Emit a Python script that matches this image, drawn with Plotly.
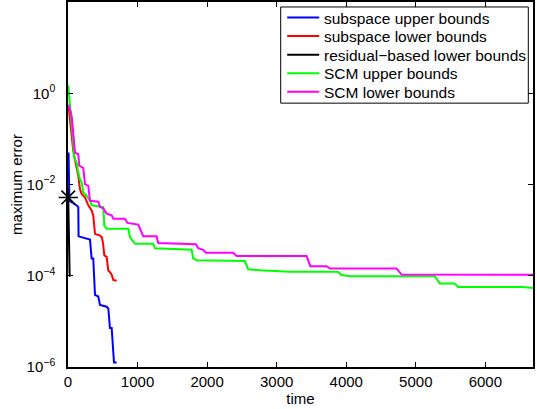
import plotly.graph_objects as go

# Error bounds versus computation time
sub_up_t = [8, 20, 134, 148, 152, 292, 316, 340, 363, 388, 435, 460, 556, 580, 603, 628, 661, 700]
sub_up_v = [0.05, 4.4e-3, 3.4e-3, 3.2e-3, 7.3e-4, 6.5e-4, 6.2e-4, 2.4e-4, 2.4e-4, 3.8e-5, 3.5e-5,
            2.3e-5, 2.1e-5, 1.9e-5, 7.2e-6, 7.2e-6, 1.26e-6, 1.26e-6]

sub_lo_t = [10, 50, 76, 148, 172, 197, 244, 292, 340, 363, 388, 460, 488, 507, 522, 556, 579,
            603, 628, 651, 700]
sub_lo_v = [0.5, 0.15, 0.054, 0.0155, 7.9e-3, 6.2e-3, 5.2e-3, 3.5e-3, 2.7e-3, 2.1e-3, 8.3e-4,
            7.6e-4, 6.9e-4, 4.7e-4, 2.8e-4, 2.6e-4, 1.3e-4, 1.2e-4, 1.05e-4, 8.1e-5, 7.8e-5]

res_lo_t = [3, 10, 18, 24]
res_lo_v = [5.2e-3, 1.5e-3, 4.0e-4, 9.5e-5]

star_t = [4]
star_v = [5.2e-3]

scm_up_t = [4, 29, 53, 76, 86, 125, 148, 172, 197, 220, 269, 316, 340, 507, 522, 556, 866, 891,
            963, 1226, 1250, 1777, 1800, 1849, 2543, 2591, 2759, 3190, 3879, 3932, 4052, 5273,
            5345, 5560, 5608, 6542, 6685]
scm_up_v = [1.5, 0.6, 0.19, 0.082, 0.039, 0.030, 0.018, 0.013, 0.011, 6.7e-3, 5.6e-3, 4.4e-3,
            3.5e-3, 3.2e-3, 1.26e-3, 1.07e-3, 1.07e-3, 7.0e-4, 5.0e-4, 5.0e-4, 4.0e-4, 3.7e-4,
            2.4e-4, 2.2e-4, 2.1e-4, 1.38e-4, 1.32e-4, 1.23e-4, 1.23e-4, 1.04e-4, 9.8e-5, 9.8e-5,
            6.8e-5, 6.8e-5, 5.7e-5, 5.7e-5, 5.4e-5]

scm_lo_t = [4, 29, 53, 76, 101, 148, 162, 220, 244, 292, 316, 435, 460, 507, 556, 628, 651, 819,
            855, 1010, 1059, 1082, 1274, 1297, 1839, 1872, 1944, 1983, 2375, 2424, 3430, 3484,
            3717, 3764, 4722, 4795, 6685]
scm_lo_v = [0.56, 0.44, 0.31, 0.114, 0.050, 0.046, 0.026, 0.023, 0.0102, 9.3e-3, 4.4e-3, 4.2e-3,
            3.2e-3, 3.0e-3, 2.3e-3, 2.1e-3, 1.78e-3, 1.78e-3, 1.44e-3, 1.32e-3, 9.1e-4, 7.3e-4,
            7.3e-4, 5.2e-4, 4.9e-4, 4.0e-4, 3.7e-4, 3.2e-4, 3.2e-4, 2.7e-4, 2.7e-4, 1.62e-4,
            1.62e-4, 1.45e-4, 1.45e-4, 1.07e-4, 1.05e-4]

x_ticks = [0, 1000, 2000, 3000, 4000, 5000, 6000]
y_ticks = [1e-6, 1e-4, 1e-2, 1e0]
y_tick_text = ["10<sup>\u22126</sup>", "10<sup>\u22124</sup>", "10<sup>\u22122</sup>", "10<sup>0</sup>"]

FONT = "Liberation Sans, Arial, sans-serif"

series = [
    ("subspace upper bounds", sub_up_t, sub_up_v, "#0000ff"),
    ("subspace lower bounds", sub_lo_t, sub_lo_v, "#ff0000"),
    ("residual\u2212based lower bounds", res_lo_t, res_lo_v, "#000000"),
    ("SCM upper bounds", scm_up_t, scm_up_v, "#00ff00"),
    ("SCM lower bounds", scm_lo_t, scm_lo_v, "#ff00ff"),
]

W, H = 537, 409
ML, MR, MT, MB = 68, 4, 0, 42
PW, PH = W - ML - MR, H - MT - MB


def px(x):
    # plot-area pixel column -> paper fraction
    return x / PW


def py(y):
    # plot-area pixel row (from top) -> paper fraction
    return 1 - y / PH


fig = go.Figure()
for name, t, v, c in series:
    fig.add_trace(go.Scatter(x=t, y=v, mode="lines", name=name, showlegend=False,
                             line=dict(color=c, width=2)))

fig.add_trace(go.Scatter(x=star_t, y=star_v, mode="markers", showlegend=False,
                         cliponaxis=False,
                         marker=dict(symbol="asterisk-open", size=16, color="black",
                                     line=dict(color="black", width=1.6))))

# Boxed legend in the upper right corner
box_l, box_r, box_t, box_b = 212.7, 460.3, 5, 101.7
row_y = [15.7, 34.3, 53.0, 71.7, 90.3]
shapes = [dict(type="rect", xref="paper", yref="paper",
               x0=px(box_l), x1=px(box_r), y0=py(box_b), y1=py(box_t),
               line=dict(color="black", width=1), fillcolor="white", layer="above")]
annotations = []
for (name, _, _, c), ry in zip(series, row_y):
    shapes.append(dict(type="line", xref="paper", yref="paper",
                       x0=px(box_l + 6.5), x1=px(box_l + 38.5), y0=py(ry), y1=py(ry),
                       line=dict(color=c, width=2), layer="above"))
    annotations.append(dict(text=name, xref="paper", yref="paper",
                            x=px(box_l + 41), y=py(ry + 0.5), xanchor="left", yanchor="middle",
                            showarrow=False,
                            font=dict(family=FONT, size=15.5, color="black")))

axis_common = dict(showline=True, linecolor="black", linewidth=1.5, mirror="ticks",
                   ticks="inside", ticklen=5, tickcolor="black", showgrid=False,
                   zeroline=False, tickfont=dict(family=FONT, size=15, color="black"))

fig.update_xaxes(range=[0, 6685], tickvals=x_ticks,
                 title=dict(text="time", font=dict(family=FONT, size=15, color="black"),
                            standoff=0),
                 **axis_common)
fig.update_yaxes(type="log", range=[-6, 2], tickvals=y_ticks, ticktext=y_tick_text,
                 ticklabelstandoff=8,
                 title=dict(text="maximum error", font=dict(family=FONT, size=15, color="black"),
                            standoff=0),
                 **axis_common)

fig.update_layout(
    width=W, height=H,
    margin=dict(l=ML, r=MR, t=MT, b=MB),
    paper_bgcolor="white", plot_bgcolor="white",
    font=dict(family=FONT, color="black"),
    showlegend=False,
    shapes=shapes,
    annotations=annotations,
)

fig.write_html("out.html")
